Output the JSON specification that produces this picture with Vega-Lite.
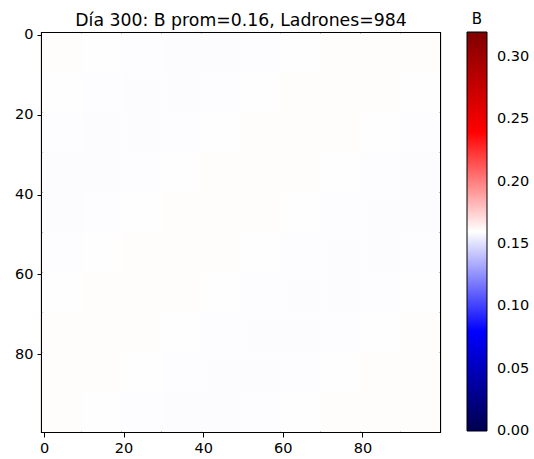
{
"$schema": "https://vega.github.io/schema/vega-lite/v6.json",
"width": 398,
"height": 399,
"autosize": {"type": "none"},
"padding": {"left": 42, "top": 33, "right": 94, "bottom": 27},
"background": "white",
"title": {"text": "Día 300: B prom=0.16, Ladrones=984", "font": "DejaVu Sans", "fontSize": 17.3, "fontWeight": "normal", "color": "black", "anchor": "middle", "offset": 7, "dy": 24},
"config": {
  "view": {"stroke": "black", "strokeWidth": 2.2},
  "axis": {"domain": true, "domainColor": "black", "domainWidth": 1.1, "grid": false, "tickColor": "black", "tickSize": 5, "tickWidth": 1, "labelFont": "DejaVu Sans", "labelFontSize": 14.5, "labelColor": "black", "labelPadding": 4, "title": null}
},
"data": {"values": [
{"x0":-0.5,"x1":9.5,"y0":-0.5,"y1":9.5,"B":0.1608},{"x0":9.5,"x1":19.5,"y0":-0.5,"y1":9.5,"B":0.1602},{"x0":19.5,"x1":29.5,"y0":-0.5,"y1":9.5,"B":0.1595},{"x0":29.5,"x1":39.5,"y0":-0.5,"y1":9.5,"B":0.1591},{"x0":39.5,"x1":49.5,"y0":-0.5,"y1":9.5,"B":0.1591},{"x0":49.5,"x1":59.5,"y0":-0.5,"y1":9.5,"B":0.1595},{"x0":59.5,"x1":69.5,"y0":-0.5,"y1":9.5,"B":0.1602},{"x0":69.5,"x1":79.5,"y0":-0.5,"y1":9.5,"B":0.1608},{"x0":79.5,"x1":89.5,"y0":-0.5,"y1":9.5,"B":0.1610},{"x0":89.5,"x1":99.5,"y0":-0.5,"y1":9.5,"B":0.1608},
{"x0":-0.5,"x1":9.5,"y0":9.5,"y1":19.5,"B":0.1602},{"x0":9.5,"x1":19.5,"y0":9.5,"y1":19.5,"B":0.1595},{"x0":19.5,"x1":29.5,"y0":9.5,"y1":19.5,"B":0.1591},{"x0":29.5,"x1":39.5,"y0":9.5,"y1":19.5,"B":0.1591},{"x0":39.5,"x1":49.5,"y0":9.5,"y1":19.5,"B":0.1595},{"x0":49.5,"x1":59.5,"y0":9.5,"y1":19.5,"B":0.1602},{"x0":59.5,"x1":69.5,"y0":9.5,"y1":19.5,"B":0.1608},{"x0":69.5,"x1":79.5,"y0":9.5,"y1":19.5,"B":0.1610},{"x0":79.5,"x1":89.5,"y0":9.5,"y1":19.5,"B":0.1608},{"x0":89.5,"x1":99.5,"y0":9.5,"y1":19.5,"B":0.1602},
{"x0":-0.5,"x1":9.5,"y0":19.5,"y1":29.5,"B":0.1595},{"x0":9.5,"x1":19.5,"y0":19.5,"y1":29.5,"B":0.1591},{"x0":19.5,"x1":29.5,"y0":19.5,"y1":29.5,"B":0.1591},{"x0":29.5,"x1":39.5,"y0":19.5,"y1":29.5,"B":0.1595},{"x0":39.5,"x1":49.5,"y0":19.5,"y1":29.5,"B":0.1602},{"x0":49.5,"x1":59.5,"y0":19.5,"y1":29.5,"B":0.1608},{"x0":59.5,"x1":69.5,"y0":19.5,"y1":29.5,"B":0.1610},{"x0":69.5,"x1":79.5,"y0":19.5,"y1":29.5,"B":0.1608},{"x0":79.5,"x1":89.5,"y0":19.5,"y1":29.5,"B":0.1602},{"x0":89.5,"x1":99.5,"y0":19.5,"y1":29.5,"B":0.1595},
{"x0":-0.5,"x1":9.5,"y0":29.5,"y1":39.5,"B":0.1591},{"x0":9.5,"x1":19.5,"y0":29.5,"y1":39.5,"B":0.1591},{"x0":19.5,"x1":29.5,"y0":29.5,"y1":39.5,"B":0.1595},{"x0":29.5,"x1":39.5,"y0":29.5,"y1":39.5,"B":0.1602},{"x0":39.5,"x1":49.5,"y0":29.5,"y1":39.5,"B":0.1608},{"x0":49.5,"x1":59.5,"y0":29.5,"y1":39.5,"B":0.1610},{"x0":59.5,"x1":69.5,"y0":29.5,"y1":39.5,"B":0.1608},{"x0":69.5,"x1":79.5,"y0":29.5,"y1":39.5,"B":0.1602},{"x0":79.5,"x1":89.5,"y0":29.5,"y1":39.5,"B":0.1595},{"x0":89.5,"x1":99.5,"y0":29.5,"y1":39.5,"B":0.1591},
{"x0":-0.5,"x1":9.5,"y0":39.5,"y1":49.5,"B":0.1591},{"x0":9.5,"x1":19.5,"y0":39.5,"y1":49.5,"B":0.1595},{"x0":19.5,"x1":29.5,"y0":39.5,"y1":49.5,"B":0.1602},{"x0":29.5,"x1":39.5,"y0":39.5,"y1":49.5,"B":0.1608},{"x0":39.5,"x1":49.5,"y0":39.5,"y1":49.5,"B":0.1610},{"x0":49.5,"x1":59.5,"y0":39.5,"y1":49.5,"B":0.1608},{"x0":59.5,"x1":69.5,"y0":39.5,"y1":49.5,"B":0.1602},{"x0":69.5,"x1":79.5,"y0":39.5,"y1":49.5,"B":0.1595},{"x0":79.5,"x1":89.5,"y0":39.5,"y1":49.5,"B":0.1591},{"x0":89.5,"x1":99.5,"y0":39.5,"y1":49.5,"B":0.1591},
{"x0":-0.5,"x1":9.5,"y0":49.5,"y1":59.5,"B":0.1595},{"x0":9.5,"x1":19.5,"y0":49.5,"y1":59.5,"B":0.1602},{"x0":19.5,"x1":29.5,"y0":49.5,"y1":59.5,"B":0.1608},{"x0":29.5,"x1":39.5,"y0":49.5,"y1":59.5,"B":0.1610},{"x0":39.5,"x1":49.5,"y0":49.5,"y1":59.5,"B":0.1608},{"x0":49.5,"x1":59.5,"y0":49.5,"y1":59.5,"B":0.1602},{"x0":59.5,"x1":69.5,"y0":49.5,"y1":59.5,"B":0.1595},{"x0":69.5,"x1":79.5,"y0":49.5,"y1":59.5,"B":0.1591},{"x0":79.5,"x1":89.5,"y0":49.5,"y1":59.5,"B":0.1591},{"x0":89.5,"x1":99.5,"y0":49.5,"y1":59.5,"B":0.1595},
{"x0":-0.5,"x1":9.5,"y0":59.5,"y1":69.5,"B":0.1602},{"x0":9.5,"x1":19.5,"y0":59.5,"y1":69.5,"B":0.1608},{"x0":19.5,"x1":29.5,"y0":59.5,"y1":69.5,"B":0.1610},{"x0":29.5,"x1":39.5,"y0":59.5,"y1":69.5,"B":0.1608},{"x0":39.5,"x1":49.5,"y0":59.5,"y1":69.5,"B":0.1602},{"x0":49.5,"x1":59.5,"y0":59.5,"y1":69.5,"B":0.1595},{"x0":59.5,"x1":69.5,"y0":59.5,"y1":69.5,"B":0.1591},{"x0":69.5,"x1":79.5,"y0":59.5,"y1":69.5,"B":0.1591},{"x0":79.5,"x1":89.5,"y0":59.5,"y1":69.5,"B":0.1595},{"x0":89.5,"x1":99.5,"y0":59.5,"y1":69.5,"B":0.1602},
{"x0":-0.5,"x1":9.5,"y0":69.5,"y1":79.5,"B":0.1608},{"x0":9.5,"x1":19.5,"y0":69.5,"y1":79.5,"B":0.1610},{"x0":19.5,"x1":29.5,"y0":69.5,"y1":79.5,"B":0.1608},{"x0":29.5,"x1":39.5,"y0":69.5,"y1":79.5,"B":0.1602},{"x0":39.5,"x1":49.5,"y0":69.5,"y1":79.5,"B":0.1595},{"x0":49.5,"x1":59.5,"y0":69.5,"y1":79.5,"B":0.1591},{"x0":59.5,"x1":69.5,"y0":69.5,"y1":79.5,"B":0.1591},{"x0":69.5,"x1":79.5,"y0":69.5,"y1":79.5,"B":0.1595},{"x0":79.5,"x1":89.5,"y0":69.5,"y1":79.5,"B":0.1602},{"x0":89.5,"x1":99.5,"y0":69.5,"y1":79.5,"B":0.1608},
{"x0":-0.5,"x1":9.5,"y0":79.5,"y1":89.5,"B":0.1610},{"x0":9.5,"x1":19.5,"y0":79.5,"y1":89.5,"B":0.1608},{"x0":19.5,"x1":29.5,"y0":79.5,"y1":89.5,"B":0.1602},{"x0":29.5,"x1":39.5,"y0":79.5,"y1":89.5,"B":0.1595},{"x0":39.5,"x1":49.5,"y0":79.5,"y1":89.5,"B":0.1591},{"x0":49.5,"x1":59.5,"y0":79.5,"y1":89.5,"B":0.1591},{"x0":59.5,"x1":69.5,"y0":79.5,"y1":89.5,"B":0.1595},{"x0":69.5,"x1":79.5,"y0":79.5,"y1":89.5,"B":0.1602},{"x0":79.5,"x1":89.5,"y0":79.5,"y1":89.5,"B":0.1608},{"x0":89.5,"x1":99.5,"y0":79.5,"y1":89.5,"B":0.1610},
{"x0":-0.5,"x1":9.5,"y0":89.5,"y1":99.5,"B":0.1608},{"x0":9.5,"x1":19.5,"y0":89.5,"y1":99.5,"B":0.1602},{"x0":19.5,"x1":29.5,"y0":89.5,"y1":99.5,"B":0.1595},{"x0":29.5,"x1":39.5,"y0":89.5,"y1":99.5,"B":0.1591},{"x0":39.5,"x1":49.5,"y0":89.5,"y1":99.5,"B":0.1591},{"x0":49.5,"x1":59.5,"y0":89.5,"y1":99.5,"B":0.1595},{"x0":59.5,"x1":69.5,"y0":89.5,"y1":99.5,"B":0.1602},{"x0":69.5,"x1":79.5,"y0":89.5,"y1":99.5,"B":0.1608},{"x0":79.5,"x1":89.5,"y0":89.5,"y1":99.5,"B":0.1610},{"x0":89.5,"x1":99.5,"y0":89.5,"y1":99.5,"B":0.1608}
]},
"mark": {"type": "rect", "strokeWidth": 0},
"encoding": {
  "x": {"field": "x0", "type": "quantitative", "scale": {"domain": [-0.5, 99.5], "nice": false, "zero": false}, "axis": {"values": [0, 20, 40, 60, 80], "labelFlush": false}},
  "x2": {"field": "x1"},
  "y": {"field": "y0", "type": "quantitative", "scale": {"domain": [-0.5, 99.5], "nice": false, "zero": false, "reverse": true}, "axis": {"values": [0, 20, 40, 60, 80], "labelFlush": false}},
  "y2": {"field": "y1"},
  "color": {"field": "B", "type": "quantitative",
    "scale": {"domain": [0, 0.08, 0.16, 0.24, 0.32], "range": ["#00004c", "#0000ff", "#ffffff", "#ff0000", "#800000"], "interpolate": "rgb"},
    "legend": {"orient": "none", "legendX": 425, "legendY": -21, "direction": "vertical", "padding": 0,
      "gradientLength": 399, "gradientThickness": 20, "gradientStrokeColor": "black", "gradientStrokeWidth": 1,
      "values": [0, 0.05, 0.1, 0.15, 0.2, 0.25, 0.3], "format": ".2f",
      "labelFont": "DejaVu Sans", "labelFontSize": 14.5, "labelColor": "black", "labelOffset": 10, "labelOverlap": false,
      "title": "B", "titleFont": "DejaVu Sans", "titleFontSize": 15, "titleFontWeight": "normal", "titleColor": "black", "titleAnchor": "start", "titleAlign": "center", "titlePadding": 5,
      "encode": {"title": {"update": {"dx": {"value": 10}}}, "labels": {"update": {"baseline": {"value": "middle"}}}}}
  }
}
}
